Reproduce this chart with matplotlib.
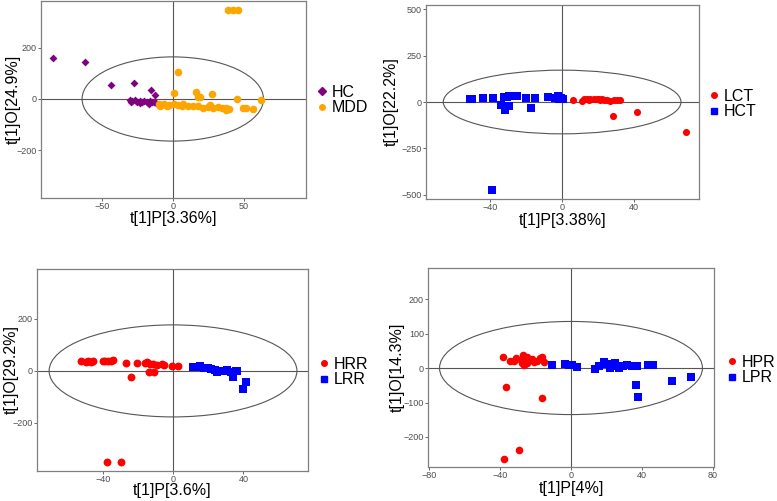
import matplotlib
matplotlib.use("Agg")
import matplotlib.pyplot as plt
from matplotlib.patches import Ellipse
from matplotlib.lines import Line2D

plt.rcParams["font.family"] = ["Liberation Sans", "DejaVu Sans"]

# ---- panel 1: HC vs MDD
hc_x = [-84.4, -61.6, -43.7, -27.4, -15.6, -12.8, -30.2, -28.6, -26.7, -25.1, -23.3,
        -21.6, -20.0, -18.1, -16.3, -14.7, -13.0, -11.6, -29.3, -22.8, -17.0]
hc_y = [162, 145, 54, 61, 35, 17, -3, -9, -3, -10, -8, -10, -8, -12, -9, -13, -10,
        -16, -13, -16, -18]
mdd_x = [39.1, 42.6, 46.1, 4.0, 0.7, 16.3, 17.7, 19.1, 27.9, 45.4, 62.3, -10.0, -8.8,
         -6.5, -4.2, -3.0, 0.5, 4.0, 6.3, 7.0, 10.5, 14.4, 17.9, 21.4, 24.9, 26.1, 28.4,
         31.9, 34.9, 37.2, 37.7, 40.0, 49.3, 51.6, 56.3]
mdd_y = [350, 350, 350, 105, 24, 26, 8, 7, 18, 0, -5, -18, -26, -21, -26, -24, -21, -22,
         -29, -20, -26, -29, -29, -34, -31, -25, -35, -33, -37, -42, -34, -39, -37, -34, -38]

# ---- panel 2: LCT vs HCT
lct_x = [6.1, 11.1, 12.0, 13.8, 14.7, 15.7, 17.5, 19.4, 20.3, 21.2, 22.1, 23.0, 24.9,
         26.7, 28.6, 30.4, 31.9, 28.0, 41.7, 68.7]
lct_y = [11, 7, 14, 18, 11, 16, 14, 16, 18, 13, 14, 11, 9, 5, 9, 11, 11, -77, -54, -164]
hct_x = [-51.1, -50.1, -44.0, -38.3, -33.7, -32.3, -30.8, -29.3, -26.7, -26.0, -25.2,
         -31.7, -29.5, -19.9, -17.3, -15.3, -8.1, -3.7, -2.2, -0.9, 0.4, -1.5, -39.1]
hct_y = [16, 16, 20, 20, -18, 29, 29, 32, 31, 34, 31, -43, -22, 23, -31, 23, 27, 23, 31,
         23, 18, 16, -477]

# ---- panel 3: HRR vs LRR
hrr_x = [-52.6, -49.5, -48.2, -46.9, -45.3, -40.0, -38.5, -37.0, -35.4, -33.9, -26.5,
         -23.8, -20.4, -15.8, -14.9, -13.3, -13.9, -10.7, -11.4, -9.1, -6.5, -5.0, -0.4,
         2.7, -37.3, -29.7]
hrr_y = [37, 34, 37, 34, 37, 37, 39, 37, 39, 41, 31, -22, 29, 31, 33, 28, -5, -5, 27, 24,
         28, 24, 19, 20, -350, -352]
lrr_x = [11.2, 13.3, 15.6, 17.9, 19.8, 21.7, 23.6, 24.8, 27.1, 29.3, 30.9, 32.8, 34.3,
         35.6, 36.2, 40.0, 41.3]
lrr_y = [15, 14, 18, 11, 10, 6, 3, -6, 1, -1, 3, -4, -24, -1, -1, -68, -42]

# ---- panel 4: HPR vs LPR
hpr_x = [-38.5, -34.6, -32.1, -30.7, -28.4, -27.5, -26.9, -26.5, -25.6, -25.0, -24.7,
         -23.2, -21.9, -20.6, -19.1, -17.6, -16.3, -15.3, -36.6, -16.3, -29.3, -37.9]
hpr_y = [31, 19, 21, 29, 23, 15, 39, 10, 21, 31, 15, 24, 27, 17, 21, 29, 31, 17, -54, -86,
         -237, -265]
lpr_x = [-10.7, -3.6, -1.3, 0.6, 3.4, 13.6, 15.5, 18.7, 20.2, 22.1, 24.9, 25.8, 27.3,
         29.5, 31.4, 34.2, 36.1, 37.0, 43.5, 46.0, 36.6, 37.6, 57.0, 67.5]
lpr_y = [10, 12, 10, 10, 3, -2, 5, 17, 12, 0, 15, 7, 0, 6, 10, 7, 5, 7, 10, 10, -49, -85,
         -37, -26]

W, H = 777, 501
fig = plt.figure(figsize=(W / 100, H / 100), dpi=100)
fig.patch.set_facecolor("white")


def panel(box, xlim, ylim, xticks, yticks, ell, xlab, ylab, groups, leg_xy, lab_xy,
          lab_fs, leg_fs):
    x0, y0, x1, y1 = box
    ax = fig.add_axes([x0 / W, 1 - y1 / H, (x1 - x0) / W, (y1 - y0) / H])
    ax.set_xlim(*xlim)
    ax.set_ylim(*ylim)
    ax.set_xticks(xticks)
    ax.set_yticks(yticks)
    ax.tick_params(labelsize=6.5, colors="#4d4d4d", length=2, width=0.6, pad=1)
    for s in ax.spines.values():
        s.set_color("#7f7f7f")
        s.set_linewidth(0.9)
    ax.axhline(0, color="#555555", lw=0.8, zorder=1)
    ax.axvline(0, color="#555555", lw=0.8, zorder=1)
    ax.add_patch(Ellipse((0, 0), 2 * ell[0], 2 * ell[1], fill=False, ec="#555555",
                         lw=0.8, zorder=1))
    handles = []
    for xs, ys, color, marker, size, name in groups:
        ax.scatter(xs, ys, s=size, c=color, marker=marker, linewidths=0, zorder=3)
        handles.append(Line2D([], [], ls="", marker=marker, color=color,
                              markersize=4, label=name))
    ax.set_xlabel(xlab, fontsize=lab_fs, va="center")
    ax.set_ylabel(ylab, fontsize=lab_fs, va="center")
    # label centres given in figure pixels
    ax.xaxis.set_label_coords((x0 + x1) / 2 / W, 1 - lab_xy[1] / H, transform=fig.transFigure)
    ax.yaxis.set_label_coords(lab_xy[0] / W, 1 - (y0 + y1) / 2 / H, transform=fig.transFigure)
    ax.legend(handles=handles, loc="center left", frameon=False, fontsize=leg_fs,
              bbox_to_anchor=(leg_xy[0] / W, 1 - leg_xy[1] / H),
              bbox_transform=fig.transFigure, handletextpad=0.1, handlelength=1.0,
              labelspacing=0.05, borderaxespad=0, borderpad=0)
    return ax


panel((41, 1, 306, 198), (-93, 94), (-388, 384), [-50, 0, 50], [-200, 0, 200],
      (64, 165), "t[1]P[3.36%]", "t[1]O[24.9%]",
      [(hc_x, hc_y, "#800080", "D", 16, "HC"), (mdd_x, mdd_y, "#FFA500", "o", 30, "MDD")],
      (314, 100), (13, 219), 11.5, 11.5)

panel((426, 5, 699, 199), (-75.6, 76), (-524, 524), [-40, 0, 40],
      [-500, -250, 0, 250, 500], (66, 172), "t[1]P[3.38%]", "t[1]O[22.2%]",
      [(lct_x, lct_y, "#FF0000", "o", 26, "LCT"), (hct_x, hct_y, "#0000FF", "s", 30, "HCT")],
      (706, 104), (391, 220), 11.5, 11.5)

panel((37, 269, 308, 471), (-77.4, 76.8), (-385, 392), [-40, 0, 40], [-200, 0, 200],
      (70.5, 177), "t[1]P[3.6%]", "t[1]O[29.2%]",
      [(hrr_x, hrr_y, "#FF0000", "o", 32, "HRR"), (lrr_x, lrr_y, "#0000FF", "s", 30, "LRR")],
      (316, 372), (11, 491), 11.5, 11.5)

panel((428, 268, 714, 467), (-80.5, 80.5), (-287, 290), [-80, -40, 0, 40, 80],
      [-200, -100, 0, 100, 200], (74, 135), "t[1]P[4%]", "t[1]O[14.3%]",
      [(hpr_x, hpr_y, "#FF0000", "o", 30, "HPR"), (lpr_x, lpr_y, "#0000FF", "s", 30, "LPR")],
      (724, 370), (397, 489), 11.5, 11.5)

fig.savefig("out.png", dpi=100)
